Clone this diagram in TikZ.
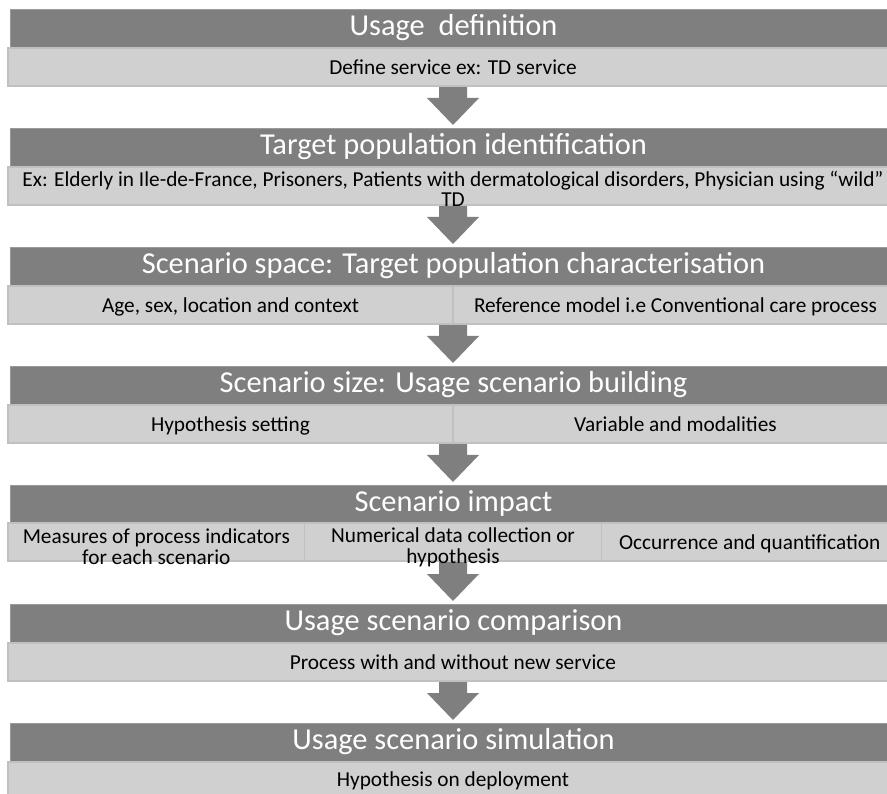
\documentclass[tikz,border=0pt]{standalone}
\usepackage{fontspec}
\setmainfont{Carlito}
\usetikzlibrary{calc}
\definecolor{hdrgray}{HTML}{7F7F7F}
\definecolor{hdrline}{HTML}{9A9A9A}
\definecolor{cellgray}{HTML}{D0D0D0}
\definecolor{cellline}{HTML}{C0C0C0}
\pgfdeclarelayer{bg}
\pgfsetlayers{bg,main}
\tikzset{
  hdr/.style={fill=hdrgray, draw=hdrline, line width=0.8pt, text=white,
    font=\fontsize{30.4}{34}\selectfont, minimum width=887pt, minimum height=38pt,
    inner sep=0pt, outer sep=0pt, anchor=north west, text height=21pt, text depth=6pt},
  cell/.style={fill=cellgray, draw=cellline, line width=1.5pt,
    font=\fontsize{21.3}{24}\selectfont, minimum height=38pt, inner sep=0pt,
    outer sep=0pt, anchor=north west, text height=15pt, text depth=0pt},
  celltext/.style={inner sep=0pt, align=center},
  blockarrow/.style={fill=hdrgray}
}
\newcommand{\flowarrow}[2]{%
  \fill[blockarrow] ($(#1)+(-14,0)$) -- ($(#2)+(-14.5,-30)$) -- ($(#2)+(-26.5,-30)$)
    -- ($(#2)+(-0.5,-3)$) -- ($(#2)+(25.5,-30)$) -- ($(#2)+(13.5,-30)$)
    -- ($(#1)+(14,0)$) -- cycle;}
\begin{document}
\begin{tikzpicture}[x=1pt,y=-1pt]
\useasboundingbox (0,0) rectangle (887,794);
\clip (0,0) rectangle (887,794);
% Block 1
\node[hdr] (h1) at (10,9) {Usage\ \ definition};
\node[cell, minimum width=890pt] (lt1) at (8,48) {Define service ex: TD service};
% Block 2
\node[hdr] (h2) at (10,128) {Target population identification};
\node[cell, minimum width=890pt] (lt2) at (8,167) {};
\node[celltext, font=\fontsize{21.3}{19.5}\selectfont] (t2) at ($(lt2.center)+(0,3)$)
  {Ex: Elderly in Ile-de-France, Prisoners, Patients with dermatological disorders, Physician using “wild”\\TD};
% Block 3
\node[hdr] (h3) at (10,247) {Scenario space: Target population characterisation};
\node[cell, minimum width=445pt] (c3a) at (8,286) {Age, sex, location and context};
\node[cell, minimum width=445pt] (c3b) at (453,286) {Reference model i.e Conventional care process};
% Block 4
\node[hdr] (h4) at (10,366) {Scenario size: Usage scenario building};
\node[cell, minimum width=445pt] (c4a) at (8,405) {Hypothesis setting};
\node[cell, minimum width=445pt] (c4b) at (453,405) {Variable and modalities};
% Block 5
\node[hdr] (h5) at (10,485) {Scenario impact};
\node[cell, minimum width=296.67pt] (c5a) at (8,523) {};
\node[cell, minimum width=296.67pt] (c5b) at (304.67,523) {};
\node[cell, minimum width=296.67pt] (c5c) at (601.33,523) {Occurrence and quantification};
\node[celltext, font=\fontsize{21.3}{21}\selectfont] (t5a) at ($(c5a.center)+(0,5)$)
  {Measures of process indicators\\for each scenario};
\node[celltext, font=\fontsize{21.3}{21}\selectfont] (t5b) at ($(c5b.center)+(0,5)$)
  {Numerical data collection or\\hypothesis};
% Block 6
\node[hdr] (h6) at (10,604) {Usage scenario comparison};
\node[cell, minimum width=890pt] (lt6) at (8,643) {Process with and without new service};
% Block 7
\node[hdr] (h7) at (10,723) {Usage scenario simulation};
\node[cell, minimum width=890pt, minimum height=39pt] (lt7) at (8,762) {};
\node[celltext, font=\fontsize{21.3}{24}\selectfont] (t7) at (453,781) {Hypothesis on deployment};
% Arrows
\begin{pgfonlayer}{bg}
\flowarrow{lt1.south}{h2.north}
\flowarrow{lt2.south}{h3.north}
\flowarrow{c3a.south east}{h4.north}
\flowarrow{c4a.south east}{h5.north}
\flowarrow{c5b.south}{h6.north}
\flowarrow{lt6.south}{h7.north}
\end{pgfonlayer}
\end{tikzpicture}
\end{document}
